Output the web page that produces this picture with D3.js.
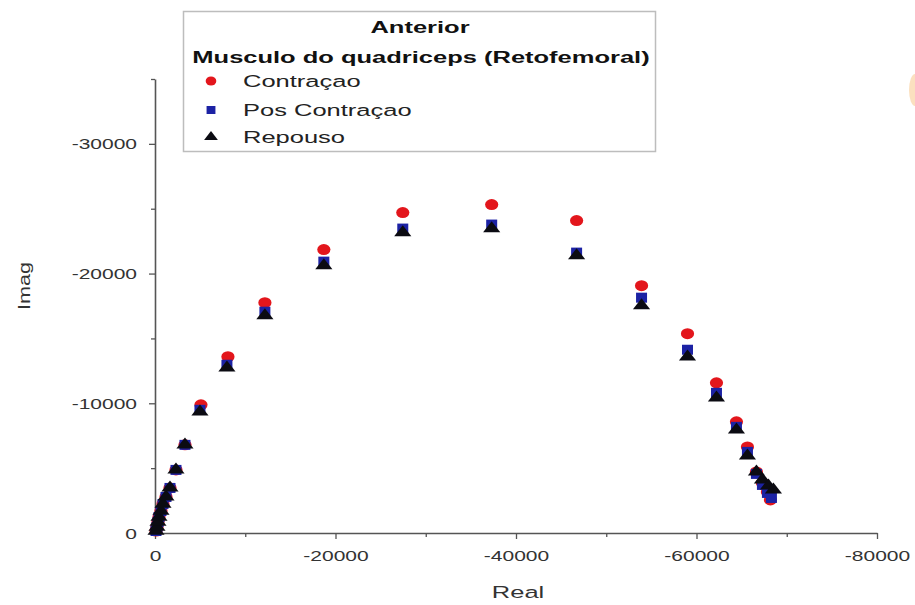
<!DOCTYPE html>
<html>
<head>
<meta charset="utf-8">
<script src="https://cdn.jsdelivr.net/npm/d3@7"></script>
<style>
  body { margin: 0; background: #fff; }
  svg { display: block; font-family: Arial, "Liberation Sans", sans-serif; }
</style>
</head>
<body>
<svg id="chart" width="915" height="605"></svg>
<script>
// values (Real, Imag)
const contracaoReal = [-111, -221, -332, -443, -664, -886, -1218, -1661, -2325, -3321, -5092, -8081, -12177, -18708, -27454, -37306, -46715, -53911, -59003, -62213, -64427, -65645, -66641, -67306, -67859, -68191];
const contracaoImag = [-154, -463, -849, -1235, -1698, -2239, -2779, -3474, -4864, -6794, -9880, -13587, -17756, -21848, -24704, -25322, -24086, -19068, -15363, -11580, -8569, -6639, -4709, -3860, -3165, -2548];

const posReal = [-111, -221, -332, -443, -664, -886, -1218, -1661, -2325, -3321, -4982, -7970, -12177, -18708, -27454, -37306, -46715, -53911, -59003, -62213, -64427, -65645, -66641, -67306, -67859, -68302];
const posImag = [-154, -463, -849, -1235, -1698, -2239, -2779, -3474, -4864, -6794, -9496, -12970, -17061, -20921, -23469, -23778, -21616, -18142, -14128, -10808, -8183, -6253, -4555, -3706, -3088, -2702];

const repousoReal = [-111, -221, -332, -443, -664, -886, -1218, -1661, -2325, -3321, -4982, -7970, -12177, -18708, -27454, -37306, -46715, -53911, -59003, -62213, -64427, -65645, -66641, -67306, -67970, -68523];
const repousoImag = [-154, -463, -849, -1235, -1698, -2239, -2779, -3474, -4864, -6794, -9341, -12738, -16752, -20612, -23160, -23469, -21384, -17524, -13587, -10422, -7952, -5944, -4709, -4092, -3628, -3320];

const xMajorTicks = [0, -20000, -40000, -60000, -80000];
const xMinorTicks = [-10000, -30000, -50000, -70000];
const yMajorTicks = [0, -10000, -20000, -30000];
const yMinorTicks = [-5000, -15000, -25000, -35000];

const legendTitle = ["Anterior", "Musculo do quadriceps (Retofemoral)"];
const seriesNames = ["Contraçao", "Pos Contraçao", "Repouso"];

const svg = d3.select("#chart");
const sx = 1.5; // the picture is stretched sideways, text too

const x = d3.scaleLinear().domain([0, -80000]).range([155, 877]);
const y = d3.scaleLinear().domain([0, -35000]).range([533, 79]);

const axisColor = "#555";
const labelColor = "#333";
const plain = d => String(d); // keep the ascii hyphen as minus

// faint orange smudge at the right edge of the picture
svg.append("ellipse")
  .attr("cx", 915).attr("cy", 90).attr("rx", 6).attr("ry", 16)
  .attr("fill", "#f8c27f").attr("opacity", 0.5);

// x axis
const gx = svg.append("g").attr("transform", `translate(0,${y(0)})`);
gx.append("g")
  .call(d3.axisBottom(x).tickValues(xMinorTicks).tickSize(4).tickFormat(""))
  .call(g => g.select(".domain").remove());
gx.append("g")
  .call(d3.axisBottom(x).tickValues(xMajorTicks).tickSize(6).tickSizeOuter(0).tickFormat(plain));
gx.selectAll("line").attr("stroke", axisColor).attr("stroke-width", 1.3);
gx.selectAll(".domain").attr("stroke", axisColor).attr("stroke-width", 1.6);
gx.selectAll("text")
  .attr("fill", labelColor).attr("font-size", 14)
  .attr("y", 0).attr("dy", 0)
  .attr("transform", `translate(0,28) scale(${sx},1)`);

// y axis
const gy = svg.append("g").attr("transform", `translate(${x(0)},0)`);
gy.append("g")
  .call(d3.axisLeft(y).tickValues(yMinorTicks).tickSize(4).tickFormat(""))
  .call(g => g.select(".domain").remove());
gy.append("g")
  .call(d3.axisLeft(y).tickValues(yMajorTicks).tickSize(6).tickSizeOuter(0).tickFormat(plain));
gy.selectAll("line").attr("stroke", axisColor).attr("stroke-width", 1.3);
gy.selectAll(".domain").attr("stroke", axisColor).attr("stroke-width", 1.6);
gy.selectAll("text")
  .attr("fill", labelColor).attr("font-size", 14)
  .attr("x", -12).attr("dy", "0.36em")
  .attr("transform", `scale(${sx},1)`);

// axis titles
svg.append("text")
  .attr("transform", `translate(518,598) scale(${sx},1)`)
  .attr("text-anchor", "middle").attr("font-size", 17).attr("fill", labelColor)
  .text("Real");
svg.append("text")
  .attr("transform", `translate(30,286) rotate(-90) scale(1.35,1)`)
  .attr("text-anchor", "middle").attr("font-size", 16).attr("fill", labelColor)
  .text("Imag");

// markers
const markers = [
  { name: seriesNames[0], re: contracaoReal, im: contracaoImag, type: d3.symbolCircle, size: 95, stretch: 1.2, color: "#e3161c" },
  { name: seriesNames[1], re: posReal, im: posImag, type: d3.symbolSquare, size: 100, stretch: 1.1, color: "#1c22a4" },
  { name: seriesNames[2], re: repousoReal, im: repousoImag, type: d3.symbolTriangle, size: 70, stretch: 1.35, color: "#0b0b12" }
];

markers.forEach(s => {
  const pts = s.re.map((r, i) => [r, s.im[i]]);
  svg.append("g")
    .selectAll("path")
    .data(pts)
    .join("path")
    .attr("d", d3.symbol().type(s.type).size(s.size))
    .attr("transform", d => `translate(${x(d[0])},${y(d[1])}) scale(${s.stretch},1)`)
    .attr("fill", s.color);
});

// legend
const lg = svg.append("g");
lg.append("rect")
  .attr("x", 183.5).attr("y", 11.5).attr("width", 472).attr("height", 140)
  .attr("fill", "#fff").attr("stroke", "#bdbdbd").attr("stroke-width", 1.5);
lg.append("text")
  .attr("transform", `translate(420,33) scale(${sx},1)`)
  .attr("text-anchor", "middle").attr("font-size", 17).attr("font-weight", "bold").attr("fill", "#111")
  .text(legendTitle[0]);
lg.append("text")
  .attr("transform", `translate(421,63) scale(${sx},1)`)
  .attr("text-anchor", "middle").attr("font-size", 17).attr("font-weight", "bold").attr("fill", "#111")
  .text(legendTitle[1]);

const rowY = [87, 116, 143];
markers.forEach((s, i) => {
  lg.append("path")
    .attr("d", d3.symbol().type(s.type).size(s.size * 0.65))
    .attr("transform", `translate(211,${rowY[i] - 6}) scale(${s.stretch},1)`)
    .attr("fill", s.color);
  lg.append("text")
    .attr("transform", `translate(243,${rowY[i]}) scale(${sx},1)`)
    .attr("font-size", 17).attr("fill", "#222")
    .text(s.name);
});
</script>
</body>
</html>
